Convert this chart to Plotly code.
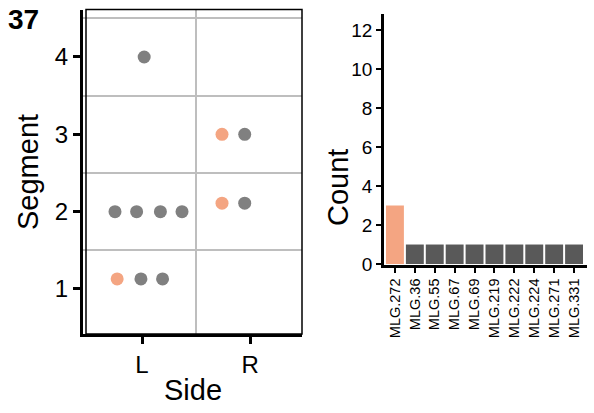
import plotly.graph_objects as go

# ---- data: left dot plot ----
side_pos = [1, 1, 1, 1, 1, 1, 1, 1, 2, 2, 2, 2]
side_offset = [0.02, -0.25, -0.05, 0.17, 0.37, -0.23, -0.01, 0.19, -0.26, -0.05, -0.26, -0.05]
segment = [4.0, 2.0, 2.0, 2.0, 2.0, 1.13, 1.13, 1.13, 3.0, 3.0, 2.11, 2.11]
highlight = [0, 0, 0, 0, 0, 1, 0, 0, 1, 0, 1, 0]
side_labels = ["L", "R"]

# ---- data: right bar chart ----
mlg_labels = ["MLG.272", "MLG.36", "MLG.55", "MLG.67", "MLG.69",
              "MLG.219", "MLG.222", "MLG.224", "MLG.271", "MLG.331"]
mlg_counts = [3, 1, 1, 1, 1, 1, 1, 1, 1, 1]
mlg_highlight = [1, 0, 0, 0, 0, 0, 0, 0, 0, 0]

SALMON = "#F4A582"
GRAY = "#808080"
DARK = "#595959"
FONT = "Liberation Sans, Arial, sans-serif"

W, H = 594, 413

fig = go.Figure()

xs = [p + o for p, o in zip(side_pos, side_offset)]
cols = [SALMON if h else GRAY for h in highlight]
fig.add_trace(go.Scatter(x=xs, y=segment, mode="markers",
                         marker=dict(size=13, color=cols, line=dict(width=0)),
                         xaxis="x", yaxis="y", showlegend=False))

bar_cols = [SALMON if h else DARK for h in mlg_highlight]
fig.add_trace(go.Bar(x=list(range(len(mlg_labels))), y=mlg_counts,
                     marker=dict(color=bar_cols, line=dict(width=0)), width=0.9,
                     xaxis="x2", yaxis="y2", showlegend=False))

# pixel boxes of the panels
L_x0, L_x1, L_y0, L_y1 = 83, 302, 9.5, 334
R_x0, R_x1, R_y0, R_y1 = 384, 587, 14, 265

fig.update_layout(
    width=W, height=H, margin=dict(l=0, r=0, t=0, b=0, autoexpand=False),
    paper_bgcolor="white", plot_bgcolor="white",
    font=dict(family=FONT, color="black"),
    xaxis=dict(domain=[L_x0 / W, L_x1 / W], range=[0.454, 2.48], automargin=False,
               tickvals=[1, 2], ticktext=side_labels, showgrid=False,
               zeroline=False, showline=True, linecolor="black", linewidth=3,
               ticks="outside", ticklen=7, tickwidth=2.5, tickcolor="black",
               tickfont=dict(size=24),
               minor=dict(tickvals=[1.5], showgrid=True, gridcolor="#bebebe",
                          gridwidth=1.6, ticks="")),
    yaxis=dict(domain=[1 - L_y1 / H, 1 - L_y0 / H], range=[0.418, 4.614],
               automargin=False,
               tickvals=[1, 2, 3, 4], showgrid=False, zeroline=False,
               showline=True, linecolor="black", linewidth=3,
               ticks="outside", ticklen=7, tickwidth=2.5, tickcolor="black",
               tickfont=dict(size=24),
               minor=dict(tickvals=[1.5, 2.5, 3.5, 4.5], showgrid=True,
                          gridcolor="#bebebe", gridwidth=1.6, ticks="")),
    xaxis2=dict(domain=[R_x0 / W, R_x1 / W], range=[-0.55, 9.65], anchor="y2",
                automargin=False,
                tickvals=list(range(len(mlg_labels))), ticktext=mlg_labels,
                tickangle=-90, tickfont=dict(size=14.5), showgrid=False,
                zeroline=False, showline=True, linecolor="black", linewidth=2.5,
                ticks="outside", ticklen=5, tickwidth=2, tickcolor="black"),
    yaxis2=dict(domain=[1 - R_y1 / H, 1 - R_y0 / H], range=[-0.05, 12.82],
                anchor="x2", automargin=False, tickvals=[0, 2, 4, 6, 8, 10, 12],
                tickfont=dict(size=19), showgrid=False, zeroline=False,
                showline=True, linecolor="black", linewidth=2.5,
                ticks="outside", ticklen=5, tickwidth=2, tickcolor="black"),
)

# panel border of left facet
fig.add_shape(type="rect", xref="paper", yref="paper",
              x0=86 / W, x1=L_x1 / W, y0=1 - L_y1 / H, y1=1 - L_y0 / H,
              line=dict(color="black", width=1.5), layer="above")

ann = [
    dict(text="<b>37</b>", x=6 / W, y=1 - 20 / H, xanchor="left", yanchor="middle",
         font=dict(size=28)),
    dict(text="Segment", x=28 / W, y=1 - 172 / H, textangle=-90,
         xanchor="center", yanchor="middle", font=dict(size=29)),
    dict(text="Side", x=193 / W, y=1 - 390 / H, xanchor="center",
         yanchor="middle", font=dict(size=29)),
    dict(text="Count", x=338 / W, y=1 - 188 / H, textangle=-90,
         xanchor="center", yanchor="middle", font=dict(size=29)),
]
for a in ann:
    a.update(xref="paper", yref="paper", showarrow=False)
    fig.add_annotation(**a)

fig.write_html("out.html", config={"displayModeBar": False},
               post_script="document.body.style.margin='0px';")
